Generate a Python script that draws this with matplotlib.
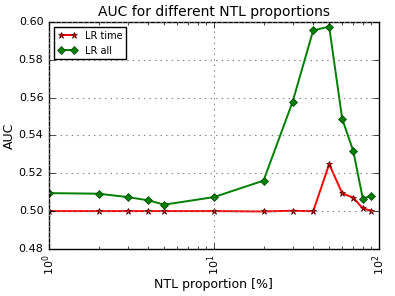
import matplotlib
matplotlib.use("Agg")
import matplotlib.pyplot as plt

plt.style.use('classic')

# NTL proportion in percent
proportions = [1, 2, 3, 4, 5, 10, 20, 30, 40, 50, 60, 70, 80, 90]
auc_lr_time = [0.5000, 0.5000, 0.5000, 0.5000, 0.5000, 0.5000, 0.4998,
               0.5002, 0.4999, 0.5248, 0.5094, 0.5071, 0.5014, 0.5002]
auc_lr_all = [0.5095, 0.5092, 0.5074, 0.5057, 0.5034, 0.5074, 0.5161,
              0.5577, 0.5955, 0.5975, 0.5487, 0.5318, 0.5066, 0.5080]

fig = plt.figure(figsize=(3.95, 2.96), dpi=100, facecolor='white')
ax = fig.add_axes([0.124, 0.159, 0.835, 0.767])

ax.plot(proportions, auc_lr_time, color='red', marker='*', markersize=5,
        markeredgecolor='#400000', markeredgewidth=0.5, linewidth=1.4,
        label='LR time')
ax.plot(proportions, auc_lr_all, color='green', marker='D', markersize=4,
        markeredgecolor='#004000', markeredgewidth=0.5, linewidth=1.4,
        label='LR all')

ax.set_xscale('log')
ax.set_xlim(1, 100)
ax.set_ylim(0.48, 0.60)
ax.set_yticks([0.48, 0.50, 0.52, 0.54, 0.56, 0.58, 0.60])
ax.tick_params(labelsize=8)
for lbl in ax.get_xticklabels():
    lbl.set_rotation(90)
ax.grid(True, color='gray', linestyle=':', linewidth=0.8)

ax.set_title('AUC for different NTL proportions', fontsize=10, pad=4)
ax.set_xlabel('NTL proportion [%]', fontsize=9, labelpad=2)
ax.set_ylabel('AUC', fontsize=9, labelpad=2)
ax.legend(loc='upper left', fontsize=7, numpoints=2)

fig.savefig('out.png', dpi=100, facecolor='white')
